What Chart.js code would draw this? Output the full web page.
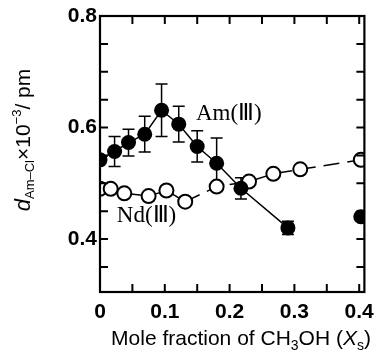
<!DOCTYPE html>
<html>
<head>
<meta charset="utf-8">
<script src="https://cdn.jsdelivr.net/npm/chart.js@4.4.1/dist/chart.umd.min.js"></script>
<style>
  html, body { margin: 0; padding: 0; background: #fff; }
  #wrap { width: 382px; height: 350px; }
</style>
</head>
<body>
<div id="wrap"><canvas id="chart"></canvas></div>
<script>
// Am(III): filled circles with error bars (last point stands alone)
const amX = [0, 0.0225, 0.044, 0.069, 0.095, 0.1215, 0.15, 0.18, 0.2175, 0.29];
const amY = [0.542, 0.557, 0.573, 0.588, 0.631, 0.606, 0.566, 0.536, 0.491, 0.420];
const amErr = [0, 0.027, 0.024, 0.032, 0.047, 0.032, 0.028, 0.045, 0.019, 0.012];
const amLoneX = [0.4025];
const amLoneY = [0.440];

// Nd(III): open circles
const ndX = [0, 0.0165, 0.0375, 0.075, 0.1025, 0.1315, 0.18, 0.23, 0.2675, 0.309, 0.4025];
const ndY = [0.490, 0.490, 0.482, 0.477, 0.487, 0.467, 0.494, 0.503, 0.517, 0.525, 0.542];

const xLabels = [0, 0.1, 0.2, 0.3, 0.4];
const yLabels = [0.4, 0.6, 0.8];
const xMinor = [0.05, 0.1, 0.15, 0.2, 0.25, 0.3, 0.35, 0.4];
const yMinor = [0.35, 0.4, 0.45, 0.5, 0.55, 0.6, 0.65, 0.7, 0.75];

const pts = (xs, ys) => xs.map((x, i) => ({ x: x, y: ys[i] }));

// frame, inward ticks, error bars, labels, axis titles
const decor = {
  id: 'decor',
  beforeDatasetsDraw(chart) {
    const { ctx, scales: { x, y } } = chart;
    ctx.save();
    ctx.strokeStyle = '#000';
    ctx.lineWidth = 1.5;
    amX.forEach((v, i) => {
      if (!amErr[i]) return;
      const px = x.getPixelForValue(v);
      const top = y.getPixelForValue(amY[i] + amErr[i]);
      const bot = y.getPixelForValue(amY[i] - amErr[i]);
      ctx.beginPath();
      ctx.moveTo(px, top); ctx.lineTo(px, bot);
      ctx.moveTo(px - 6, top); ctx.lineTo(px + 6, top);
      ctx.moveTo(px - 6, bot); ctx.lineTo(px + 6, bot);
      ctx.stroke();
    });
    ctx.restore();
  },
  afterDatasetsDraw(chart) {
    const { ctx, chartArea: a, scales: { x, y } } = chart;
    ctx.save();
    ctx.strokeStyle = '#000';
    ctx.lineWidth = 2.2;
    ctx.strokeRect(a.left, a.top, a.right - a.left, a.bottom - a.top);
    ctx.lineWidth = 2;
    ctx.beginPath();
    xMinor.forEach(v => {
      const px = x.getPixelForValue(v);
      ctx.moveTo(px, a.bottom); ctx.lineTo(px, a.bottom - 8);
      ctx.moveTo(px, a.top); ctx.lineTo(px, a.top + 8);
    });
    yMinor.forEach(v => {
      const py = y.getPixelForValue(v);
      ctx.moveTo(a.left, py); ctx.lineTo(a.left + 8, py);
      ctx.moveTo(a.right, py); ctx.lineTo(a.right - 8, py);
    });
    ctx.stroke();

    // series labels
    ctx.fillStyle = '#000';
    ctx.font = '23px "Liberation Serif", serif';
    ctx.textBaseline = 'alphabetic';
    ctx.fillText('Am(Ⅲ)', x.getPixelForValue(0.148), y.getPixelForValue(0.614));
    ctx.fillText('Nd(Ⅲ)', x.getPixelForValue(0.026), y.getPixelForValue(0.43));

    // x title
    const xt = [
      ['Mole fraction of CH', '21px "Liberation Sans"', 0],
      ['3', '14px "Liberation Sans"', 5],
      ['OH (', '21px "Liberation Sans"', 0],
      ['X', 'italic 21px "Liberation Sans"', 0],
      ['s', '14px "Liberation Sans"', 5],
      [')', '21px "Liberation Sans"', 0]
    ];
    drawRich(ctx, xt, 241, 345);

    // y title (rotated)
    ctx.translate(30, 140);
    ctx.rotate(-Math.PI / 2);
    const yt = [
      ['d', 'italic 22px "Liberation Sans"', 0],
      ['Am\u2013Cl', '13px "Liberation Sans"', 4],
      ['\u00d710', '21px "Liberation Sans"', 0],
      ['\u22123', '13px "Liberation Sans"', -9],
      ['/ pm', '21px "Liberation Sans"', 0]
    ];
    drawRich(ctx, yt, 0, 0);
    ctx.restore();
  }
};

function drawRich(ctx, parts, cx, base) {
  let total = 0;
  parts.forEach(p => { ctx.font = p[1]; total += ctx.measureText(p[0]).width; });
  let cur = cx - total / 2;
  ctx.textAlign = 'left';
  parts.forEach(p => {
    ctx.font = p[1];
    ctx.fillText(p[0], cur, base + p[2]);
    cur += ctx.measureText(p[0]).width;
  });
}

new Chart(document.getElementById('chart'), {
  type: 'scatter',
  data: {
    datasets: [
      {
        label: 'Am(III)',
        data: pts(amX, amY),
        showLine: true,
        borderColor: '#000',
        borderWidth: 1.5,
        backgroundColor: '#000',
        pointRadius: 7.5,
        pointBorderWidth: 0
      },
      {
        label: 'Am(III) lone',
        data: pts(amLoneX, amLoneY),
        borderColor: '#000',
        backgroundColor: '#000',
        pointRadius: 7.5,
        pointBorderWidth: 0
      },
      {
        label: 'Nd(III)',
        data: pts(ndX, ndY),
        showLine: true,
        borderColor: '#000',
        borderWidth: 1.5,
        backgroundColor: '#fff',
        pointRadius: 7,
        pointBorderWidth: 2,
        segment: {
          borderDash: ctx => ctx.p0DataIndex >= 5 ? [16, 8] : undefined
        }
      }
    ]
  },
  options: {
    responsive: true,
    maintainAspectRatio: false,
    animation: false,
    layout: { padding: { top: 16, right: 10, left: 0, bottom: 0 } },
    plugins: { legend: { display: false }, tooltip: { enabled: false } },
    scales: {
      x: {
        type: 'linear',
        min: 0,
        max: 0.408,
        afterBuildTicks: s => { s.ticks = xLabels.map(v => ({ value: v })); },
        afterFit: s => { s.height = 58; },
        grid: { display: false, drawTicks: false },
        border: { display: false },
        ticks: {
          padding: 8,
          color: '#000',
          font: { family: 'Liberation Sans', size: 21, weight: 'bold' },
          callback: v => v === 0 ? '0' : v.toFixed(1)
        }
      },
      y: {
        min: 0.305,
        max: 0.8,
        afterBuildTicks: s => { s.ticks = yLabels.map(v => ({ value: v })); },
        afterFit: s => { s.width = 100; },
        grid: { display: false, drawTicks: false },
        border: { display: false },
        ticks: {
          padding: 3,
          color: '#000',
          font: { family: 'Liberation Sans', size: 21, weight: 'bold' },
          callback: v => v.toFixed(1)
        }
      }
    }
  },
  plugins: [decor]
});
</script>
</body>
</html>
